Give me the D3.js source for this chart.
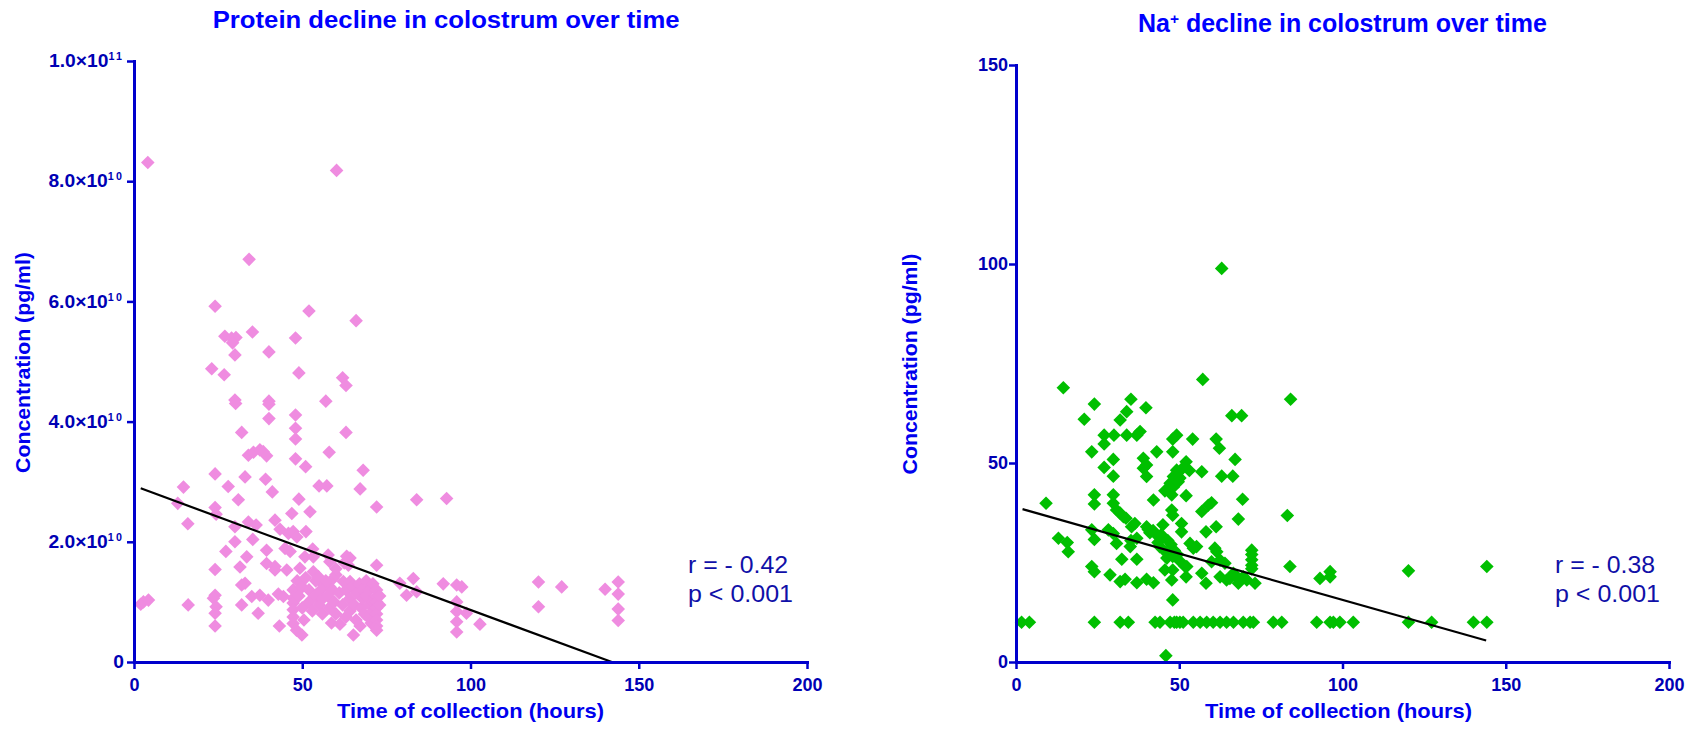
<!DOCTYPE html>
<html><head><meta charset="utf-8">
<script src="https://cdn.jsdelivr.net/npm/d3@7"></script>
<style>
body{margin:0;background:#fff}
svg{display:block}
text{font-family:"Liberation Sans",Arial,sans-serif}
</style>
</head><body>
<svg id="chart" width="1691" height="729"></svg>
<script>
// ---------------- DATA ----------------
const xTicks = [0, 50, 100, 150, 200];

// Protein panel: [hours, concentration ×10^9 pg/ml]
const proteinTicks = [0, 20, 40, 60, 80, 100];
const proteinTickMantissa = ["0", "2.0", "4.0", "6.0", "8.0", "1.0"];
const proteinTickExponent = ["", "10", "10", "10", "10", "11"];
const proteinPoints = [
 [4.1,83.1],[60.2,81.8],[2.0,9.6],[2.8,10.0],[4.3,10.3],
 [34.2,67.0],[24.1,59.2],[52.0,58.4],[66.0,56.8],[35.2,54.9],[27.0,54.2],[29.0,53.9],[30.3,54.0],[48.0,53.9],[29.3,53.1],
 [30.0,51.1],[40.1,51.6],[23.1,48.8],[26.8,47.8],[49.0,48.1],[62.0,47.3],[63.0,46.0],[30.0,43.6],[30.2,43.0],[40.1,43.4],
 [40.1,42.9],[57.0,43.4],[40.1,40.5],[48.0,41.1],[48.0,38.9],[32.0,38.2],[63.0,38.2],[48.0,37.1],[34.0,34.4],[35.5,34.9],
 [37.4,35.3],[38.4,35.0],[39.4,34.3],[48.0,33.8],[51.0,32.5],[58.0,34.9],[68.1,31.9],[24.1,31.3],[33.0,30.8],[39.1,30.4],
 [28.0,29.2],[14.7,29.1],[55.0,29.3],[57.3,29.3],[67.2,28.8],[41.1,28.3],[84.0,27.0],[92.9,27.2],[31.0,27.0],[49.0,27.1],
 [13.0,26.4],[24.1,25.7],[46.9,24.7],[52.3,25.0],[72.1,25.8],[16.0,23.0],[24.4,24.6],[30.0,22.5],[34.0,23.3],[36.3,22.8],
 [41.9,23.6],[43.4,22.1],[45.9,21.4],[47.3,21.7],[48.4,20.8],[51.1,21.7],[35.3,20.4],[30.0,20.0],[27.3,18.4],[33.5,17.5],
 [39.4,18.6],[44.9,18.9],[46.4,18.4],[53.1,18.8],[53.3,17.5],[50.8,17.5],[57.7,17.8],[58.2,16.7],[63.2,17.6],[63.7,16.1],
 [72.1,16.1],[24.1,15.4],[31.5,15.8],[39.4,16.4],[41.9,15.9],[41.9,15.3],[45.4,15.3],[49.3,15.6],[53.3,15.0],[54.8,14.2],
 [55.8,13.1],[58.2,12.5],[59.2,13.9],[62.2,13.4],[64.2,13.4],[33.0,13.1],[32.0,12.8],[24.1,11.1],[23.6,10.6],[35.0,10.9],
 [37.4,11.1],[39.9,10.3],[42.9,11.3],[44.4,10.9],
 [47.3,12.0],[47.3,10.6],[47.3,9.8],[47.3,8.7],[47.3,7.5],[47.3,6.4],[48.3,5.3],[49.9,4.5],
 [24.4,9.2],[24.1,8.1],[16.1,9.5],[32.0,9.5],[36.9,8.1],[24.1,6.0],[43.2,6.0],[58.7,6.5],[61.2,6.3],[65.2,4.5],[67.2,6.0],[71.0,6.2],
 [48.5,13.5],[49.0,11.0],[50.0,9.0],[50.5,7.0],[50.0,12.5],[51.0,14.0],[52.0,12.0],[52.0,10.0],[53.0,8.5],[54.0,11.0],
 [54.0,13.5],[55.0,9.5],[55.5,12.0],[56.0,10.5],[56.0,8.0],[57.0,13.5],[57.5,11.0],[58.0,9.0],[59.0,12.0],[59.5,10.0],
 [60.0,14.5],[60.0,8.0],[61.0,11.5],[62.0,9.5],[63.0,12.0],[63.0,7.5],[64.0,10.5],[64.2,8.5],[65.0,12.5],[65.5,9.5],
 [66.0,11.5],[66.0,7.0],[67.0,13.0],[67.5,9.0],[68.0,12.0],[68.0,10.5],[68.5,8.0],[69.0,13.5],[69.0,11.0],[69.5,7.5],
 [70.0,12.0],[70.0,9.5],[70.5,6.5],[71.0,13.0],[71.0,10.0],[71.0,8.5],[72.1,12.0],[72.1,11.0],[72.1,10.0],[72.1,9.0],
 [72.1,8.0],[72.1,7.0],[72.1,6.0],[72.1,5.3],[73.0,9.5],[73.0,11.0],[60.0,15.5],[62.5,16.5],[64.2,17.3],
 [79.0,13.1],[83.0,13.9],[81.0,11.1],[84.0,11.7],[91.9,13.0],[95.9,12.8],[97.4,12.5],[95.9,10.0],[95.9,8.4],[98.8,8.1],
 [95.9,6.7],[95.9,5.0],[102.8,6.3],[120.2,13.3],[120.2,9.2],[127.1,12.5],[140.0,12.1],[143.9,13.3],[143.9,11.3],[143.9,8.8],[143.9,6.9]
];
const proteinFit = [[2, 28.9], [142, 0]];
const proteinStats = ["r = - 0.42", "p < 0.001"];

// Na+ panel: [hours, concentration pg/ml]
const naTicks = [0, 50, 100, 150];
const naPoints = [
 [63.0,98.9],[57.2,71.0],[14.5,68.9],[84.1,66.0],[35.2,66.0],[24.0,64.8],[39.8,63.9],[33.9,62.9],[31.9,60.8],[20.9,61.0],
 [66.1,61.9],[69.1,61.9],[27.0,57.0],[30.0,57.0],[33.9,57.0],[37.0,57.0],[38.0,57.9],[27.0,54.8],[23.2,52.8],[43.1,52.8],
 [48.0,52.8],[48.0,56.0],[49.2,57.0],[54.1,56.0],[61.3,56.0],[62.3,53.7],[67.1,50.9],[29.8,50.9],[39.0,51.2],[40.0,49.5],
 [39.0,48.7],[27.0,48.9],[29.8,46.7],[40.0,46.6],[52.1,50.3],[50.7,48.4],[53.1,48.1],[49.2,48.2],[48.2,46.6],[50.2,46.2],
 [47.2,44.9],[48.2,44.0],[49.7,45.3],[56.9,47.8],[63.0,46.7],[66.4,46.7],
 [24.0,42.0],[24.0,39.7],[29.8,42.0],[29.8,39.9],[45.6,43.0],[47.7,42.0],[52.1,41.8],[42.1,40.7],[9.2,39.9],[30.8,38.2],
 [31.9,37.4],[32.9,36.5],[47.7,38.2],[48.0,36.9],[58.9,39.4],[56.9,37.8],[59.9,40.0],[69.4,40.9],[83.1,36.8],[68.1,35.9],
 [33.7,36.1],[35.4,34.0],[36.4,34.8],[40.0,34.0],[41.0,32.5],[40.5,33.3],[42.0,33.0],[43.0,32.0],[45.0,34.5],[44.5,32.0],
 [43.5,30.0],[44.0,29.0],[50.7,34.8],[50.7,32.7],[58.2,32.7],[61.3,34.0],
 [13.0,31.1],[15.7,30.0],[16.0,27.7],[23.2,33.2],[24.0,30.8],[28.3,33.2],[29.8,32.3],[30.8,29.8],[35.2,30.5],[37.0,31.1],
 [35.0,29.0],[46.5,30.5],[47.5,29.5],[48.5,28.0],[46.0,27.5],[49.5,27.0],[50.0,25.5],[53.3,29.8],[54.3,28.6],[55.3,29.0],
 [60.9,28.6],[61.5,27.7],[72.2,28.1],[72.2,27.0],[72.2,25.7],[72.2,24.3],[72.2,23.4],
 [32.4,25.8],[37.0,25.8],[46.2,26.1],[48.0,26.5],[51.8,24.0],[59.9,25.2],[62.5,25.6],[64.0,24.8],
 [23.2,24.0],[24.0,22.7],[28.8,21.9],[31.9,20.2],[33.4,20.8],[37.0,19.9],[40.0,20.8],[42.1,19.9],[45.6,23.1],[48.0,23.1],
 [47.7,20.6],[52.3,24.0],[52.1,21.4],[56.9,22.3],[58.2,19.8],[62.5,21.4],[64.5,20.6],[66.6,22.3],[68.1,19.8],[69.6,21.4],
 [70.7,20.6],[73.2,19.8],[65.5,21.0],[67.5,21.5],[48.0,15.6],[45.9,1.6],
 [1.7,10],[4.1,10],[24.0,10],[31.9,10],[34.4,10],[42.6,10],[44.1,10],[47.2,10],[48.5,10],[49.2,10],[50.2,10],[51.2,10],
 [54.3,10],[56.4,10],[58.4,10],[60.4,10],[62.5,10],[64.5,10],[66.6,10],[69.6,10],[71.7,10],[72.7,10],[78.8,10],[81.4,10],
 [92.1,10],[96.2,10],[97.2,10],[99.2,10],[103.3,10],[120.2,10],[127.3,10],[140.1,10],[144.2,10],
 [93.1,21.0],[96.2,22.7],[96.2,21.4],[120.2,22.9],[144.2,24.0],[83.9,24.0]
];
const naFit = [[2, 38.4], [144, 5.4]];
const naStats = ["r = - 0.38", "p < 0.001"];

// ---------------- STYLE ----------------
const AXIS = "#0000CC", TICKTXT = "#0000B4", TITLE = "#0000FF", LABEL = "#0000EE", STAT = "#1010A8";
const svg = d3.select("#chart");
const diamond = "M0,-6.8L6.8,0L0,6.8L-6.8,0Z";

function stretchText(sel, targetW) {
  const w = sel.node().getComputedTextLength();
  return targetW / w;
}

function panel(cfg) {
  const x = d3.scaleLinear().domain([0, 200]).range(cfg.xr);
  const y = d3.scaleLinear().domain(cfg.ydom).range(cfg.yr);
  const g = svg.append("g");

  // points
  g.append("g").selectAll("path").data(cfg.points).join("path")
    .attr("d", diamond)
    .attr("transform", d => `translate(${x(d[0])},${y(d[1])})`)
    .attr("fill", cfg.color);

  // regression
  g.append("path")
    .attr("d", d3.line().x(d => x(d[0])).y(d => y(d[1]))(cfg.fit))
    .attr("fill", "none").attr("stroke", "#000").attr("stroke-width", 2.2);

  // x axis
  const xa = g.append("g").attr("transform", `translate(0,${cfg.yr[0]})`)
    .call(d3.axisBottom(x).tickValues(xTicks).tickSize(7).tickSizeOuter(0).tickPadding(9).tickFormat(d3.format("d")));
  // y axis
  const ya = g.append("g").attr("transform", `translate(${cfg.xr[0]},0)`)
    .call(d3.axisLeft(y).tickValues(cfg.yticks).tickSize(7).tickSizeOuter(0).tickPadding(cfg.yPad));

  [xa, ya].forEach(a => {
    a.select(".domain").attr("stroke", AXIS).attr("stroke-width", 3).attr("stroke-linecap", "square");
    a.selectAll(".tick line").attr("stroke", AXIS).attr("stroke-width", 2.5);
    a.selectAll(".tick text").attr("fill", TICKTXT).attr("font-size", 18).attr("font-weight", "bold")
      .attr("font-family", '"Liberation Sans",Arial,sans-serif');
  });

  if (cfg.tickFormatter) cfg.tickFormatter(ya);

  // title
  const t = g.append("text").attr("fill", TITLE).attr("font-weight", "bold").attr("font-size", cfg.titleSize);
  cfg.titleParts.forEach(p => {
    const ts = t.append("tspan").text(p.t);
    if (p.sup) ts.attr("font-size", cfg.titleSize * 0.62).attr("baseline-shift", "super");
  });
  const ts = stretchText(t, cfg.titleW);
  t.attr("transform", `translate(${cfg.titleX},${cfg.titleY}) scale(${ts},1)`);

  // x label
  const xl = g.append("text").attr("fill", LABEL).attr("font-weight", "bold").attr("font-size", 21)
    .attr("text-anchor", "middle").text("Time of collection (hours)");
  xl.attr("transform", `translate(${cfg.xlabX},718) scale(${stretchText(xl, 267)},1)`);

  // y label
  const yl = g.append("text").attr("fill", LABEL).attr("font-weight", "bold").attr("font-size", 21)
    .attr("text-anchor", "middle").text("Concentration (pg/ml)");
  yl.attr("transform", `translate(${cfg.ylabX},${cfg.ylabY}) rotate(-90) scale(${stretchText(yl, 221)},1)`);

  // stats
  cfg.stats.forEach((s, i) => {
    const st = g.append("text").attr("fill", STAT).attr("font-size", 24).text(s);
    const w = i === 0 ? 100 : 105;
    st.attr("transform", `translate(${cfg.statX},${573 + i * 28.5}) scale(${stretchText(st, w)},1)`);
  });
}

panel({
  xr: [134, 807], ydom: [0, 100], yr: [662, 61], yticks: proteinTicks, yPad: 3,
  points: proteinPoints, color: "#EF8CE0", fit: proteinFit,
  titleParts: [{t: "Protein decline in colostrum over time"}], titleSize: 24,
  titleX: 212.7, titleY: 28.3, titleW: 467,
  xlabX: 470.5, ylabX: 30, ylabY: 362.5, stats: proteinStats, statX: 688,
  tickFormatter: ya => {
    ya.selectAll(".tick text").each(function(d, i) {
      const el = d3.select(this);
      const idx = proteinTicks.indexOf(d);
      el.text(null);
      el.append("tspan").text(proteinTickMantissa[idx] === "0" ? "0" : proteinTickMantissa[idx] + "×10");
      if (proteinTickExponent[idx]) {
        el.append("tspan").attr("font-size", 10).attr("dy", -7).attr("letter-spacing", 2).text(proteinTickExponent[idx]);
      }
      const xpos = +el.attr("x");
      el.attr("x", 0).attr("transform", `translate(${xpos},0) scale(1.07,1)`);
    });
  }
});

panel({
  xr: [1016, 1669], ydom: [0, 150], yr: [662, 65], yticks: naTicks, yPad: 1,
  points: naPoints, color: "#00BF00", fit: naFit,
  titleParts: [{t: "Na"}, {t: "+", sup: true}, {t: " decline in colostrum over time"}], titleSize: 25,
  titleX: 1138, titleY: 32.3, titleW: 409,
  xlabX: 1338.5, ylabX: 916.5, ylabY: 364, stats: naStats, statX: 1555
});
</script>
</body></html>
